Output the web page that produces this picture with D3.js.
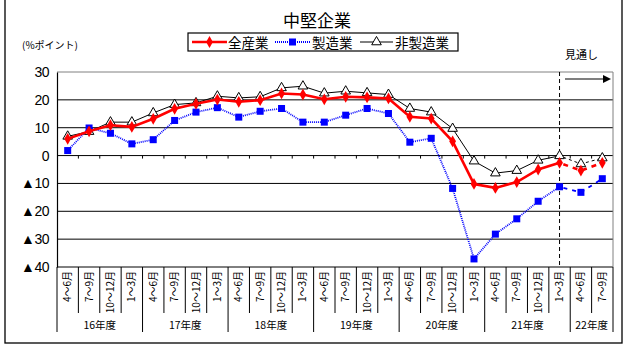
<!DOCTYPE html>
<html><head><meta charset="utf-8">
<script src="https://cdn.jsdelivr.net/npm/d3@7"></script>
<style>
html,body{margin:0;padding:0;background:#fff;}
svg{display:block;}
text{font-family:"Noto Sans CJK JP","Liberation Sans",sans-serif;}
</style></head>
<body>
<script>
// ---- data ----
const quarters = ["4～6月","7～9月","10～12月","1～3月","4～6月","7～9月","10～12月","1～3月",
  "4～6月","7～9月","10～12月","1～3月","4～6月","7～9月","10～12月","1～3月",
  "4～6月","7～9月","10～12月","1～3月","4～6月","7～9月","10～12月","1～3月",
  "4～6月","7～9月"];
const years = ["16年度","17年度","18年度","19年度","20年度","21年度","22年度"];
const yearCounts = [4,4,4,4,4,4,2];
const allInd = [6.0, 8.7, 10.9, 10.3, 13.2, 16.8, 18.6, 20.1, 19.3, 19.9, 22.3, 21.9,
  20.2, 21.1, 20.9, 20.5, 13.9, 13.3, 5.1, -10.2, -11.6, -9.5, -5.0, -2.6];
const allIndFc = [-5.4, -2.6];
const mfg = [1.8, 9.9, 8.0, 4.2, 5.7, 12.6, 15.6, 17.2, 13.8, 15.9, 16.9, 12.0,
  12.0, 14.5, 16.9, 15.1, 4.8, 6.2, -11.8, -37.1, -28.2, -22.7, -16.4, -11.2];
const mfgFc = [-13.2, -8.3];
const nonMfg = [6.9, 8.6, 12.0, 12.0, 15.3, 18.3, 18.9, 21.3, 20.7, 21.1, 24.3, 24.9,
  22.4, 23.1, 22.5, 21.9, 16.9, 15.6, 9.7, -2.0, -6.3, -5.4, -1.7, -0.1];
const nonMfgFc = [-3.0, -0.9];
const yTicks = [30, 20, 10, 0, -10, -20, -30, -40];
const seriesNames = ["全産業","製造業","非製造業"];
const title = "中堅企業";
const unitLabel = "(%ポイント)";
const outlookLabel = "見通し";

// ---- layout ----
const W = 630, H = 348;
const L = 57, R = 613, T = 72, B = 267;
const svg = d3.select("body").append("svg").attr("width", W).attr("height", H);

const x = d3.scaleBand().domain(d3.range(quarters.length)).range([L, R]).padding(0);
const y = d3.scaleLinear().domain([-40, 30]).range([B, T]);
const cx = i => x(i) + x.bandwidth() / 2;

// outer frame
svg.append("rect").attr("x", 5).attr("y", -3).attr("width", 617).attr("height", 346)
  .attr("fill", "none").attr("stroke", "#000").attr("stroke-width", 1.3);

// title
svg.append("text").attr("x", 317).attr("y", 19).attr("text-anchor", "middle")
  .attr("dominant-baseline", "central").attr("font-size", 17).text(title);
svg.append("text").attr("x", 22).attr("y", 44).attr("dominant-baseline", "central")
  .attr("font-size", 10).text(unitLabel);

// gridlines
const grid = svg.append("g");
grid.selectAll("line").data(yTicks.filter(d => d < 30)).join("line")
  .attr("x1", L).attr("x2", R).attr("y1", d => y(d)).attr("y2", d => y(d))
  .attr("stroke", "#000").attr("stroke-width", 1);
// plot border (top/right gray)
svg.append("path").attr("d", `M${L},${y(30)}H${R}V${B}`).attr("fill", "none")
  .attr("stroke", "#808080").attr("stroke-width", 1);
// left axis
const yAxis = d3.axisLeft(y).tickValues(yTicks).tickSize(0).tickPadding(8)
  .tickFormat(d => d < 0 ? "▲" + (-d) : d);
const ga = svg.append("g").attr("transform", `translate(${L},0)`).call(yAxis);
ga.select(".domain").attr("stroke", "#000").attr("stroke-width", 1.2);
ga.selectAll("text").attr("font-size", 14).attr("fill", "#000")
  .attr("letter-spacing", -0.5)
  .style("font-family", "'Liberation Sans', Arial, sans-serif");

// zero-line ticks
const bounds = d3.range(quarters.length + 1).map(i => i < quarters.length ? x(i) : R);
svg.append("g").selectAll("line").data(bounds.slice(1, -1)).join("line")
  .attr("x1", d => d).attr("x2", d => d).attr("y1", y(0)).attr("y2", y(0) + 3)
  .attr("stroke", "#000");

// category separators below plot
const yearStarts = [];
let acc = 0;
yearCounts.forEach(c => { yearStarts.push(acc); acc += c; });
const yearBoundary = new Set([...yearStarts, quarters.length]);
svg.append("g").selectAll("line").data(d3.range(quarters.length + 1)).join("line")
  .attr("x1", i => bounds[i]).attr("x2", i => bounds[i])
  .attr("y1", B).attr("y2", i => yearBoundary.has(i) ? 332 : 313)
  .attr("stroke", "#000").attr("stroke-width", 1);

// quarter labels (vertical)
svg.append("g").selectAll("text").data(quarters).join("text")
  .attr("transform", (d, i) => `translate(${cx(i) + 3.5},${B + 4}) rotate(-90)`)
  .attr("text-anchor", "end").attr("font-size", 10).text(d => d);

// year labels
svg.append("g").selectAll("text").data(years).join("text")
  .attr("x", (d, k) => (bounds[yearStarts[k]] + bounds[yearStarts[k] + yearCounts[k]]) / 2)
  .attr("y", 324).attr("text-anchor", "middle").attr("dominant-baseline", "central")
  .attr("font-size", 10.5).text(d => d);

// outlook divider & arrow
const lastIdx = allInd.length - 1;
svg.append("line").attr("x1", cx(lastIdx)).attr("x2", cx(lastIdx)).attr("y1", T).attr("y2", B)
  .attr("stroke", "#000").attr("stroke-width", 1).attr("stroke-dasharray", "4,3");
svg.append("text").attr("x", 565).attr("y", 54).attr("dominant-baseline", "central")
  .attr("font-size", 11).text(outlookLabel);
svg.append("line").attr("x1", 565).attr("x2", 604).attr("y1", 79).attr("y2", 79)
  .attr("stroke", "#000").attr("stroke-width", 1.2);
svg.append("path").attr("d", "M603,75L611,79L603,83Z").attr("fill", "#000");

// series
const line = d3.line().x(d => cx(d.i)).y(d => y(d.v));
const toPts = (arr, off) => arr.map((v, k) => ({i: k + off, v}));
const cfg = [
  {name: seriesNames[2], act: nonMfg, fc: nonMfgFc, color: "#000", w: 1, dash: null, fdash: "3,3", marker: "tri"},
  {name: seriesNames[1], act: mfg, fc: mfgFc, color: "#0000ff", w: 1.8, dash: "1,1", fdash: "4,5", marker: "sq"},
  {name: seriesNames[0], act: allInd, fc: allIndFc, color: "#ff0000", w: 2.6, dash: null, fdash: "5,5", marker: "dia"}
];
function drawMarker(g, type, color, px, py) {
  if (type === "tri") {
    g.append("path").attr("d", d3.symbol(d3.symbolTriangle, 40)())
      .attr("transform", `translate(${px},${py})`).attr("fill", "#fff")
      .attr("stroke", "#000").attr("stroke-width", 1);
  } else if (type === "sq") {
    g.append("rect").attr("x", px - 3.5).attr("y", py - 3.5).attr("width", 7).attr("height", 7)
      .attr("fill", color);
  } else {
    g.append("path").attr("d", d3.symbol(d3.symbolDiamond, 40)())
      .attr("transform", `translate(${px},${py})`).attr("fill", color);
  }
}
cfg.forEach(s => {
  const g = svg.append("g");
  const ap = toPts(s.act, 0);
  const fp = [ap[ap.length - 1]].concat(toPts(s.fc, s.act.length));
  g.append("path").attr("d", line(ap)).attr("fill", "none").attr("stroke", s.color)
    .attr("stroke-width", s.w).attr("stroke-dasharray", s.dash);
  g.append("path").attr("d", line(fp)).attr("fill", "none").attr("stroke", s.color)
    .attr("stroke-width", s.w).attr("stroke-dasharray", s.fdash).attr("stroke-dashoffset", -4);
  ap.concat(fp.slice(1)).forEach(p => drawMarker(g, s.marker, s.color, cx(p.i), y(p.v)));
});

// legend
const lg = svg.append("g");
lg.append("rect").attr("x", 188).attr("y", 33).attr("width", 270).attr("height", 18)
  .attr("fill", "#fff").attr("stroke", "#000").attr("stroke-width", 1.2);
const legItems = [
  {name: seriesNames[0], x1: 192, x2: 227, color: "#ff0000", w: 2.6, dash: null, marker: "dia", tx: 228},
  {name: seriesNames[1], x1: 275, x2: 310, color: "#0000ff", w: 1.8, dash: "1,1", marker: "sq", tx: 312},
  {name: seriesNames[2], x1: 360, x2: 393, color: "#000", w: 1, dash: null, marker: "tri", tx: 395}
];
legItems.forEach(it => {
  lg.append("line").attr("x1", it.x1).attr("x2", it.x2).attr("y1", 42).attr("y2", 42)
    .attr("stroke", it.color).attr("stroke-width", it.w).attr("stroke-dasharray", it.dash);
  drawMarker(lg, it.marker, it.color, (it.x1 + it.x2) / 2, 42);
  lg.append("text").attr("x", it.tx).attr("y", 42).attr("dominant-baseline", "central")
    .attr("font-size", 13.5).text(it.name);
});
</script>
</body></html>
